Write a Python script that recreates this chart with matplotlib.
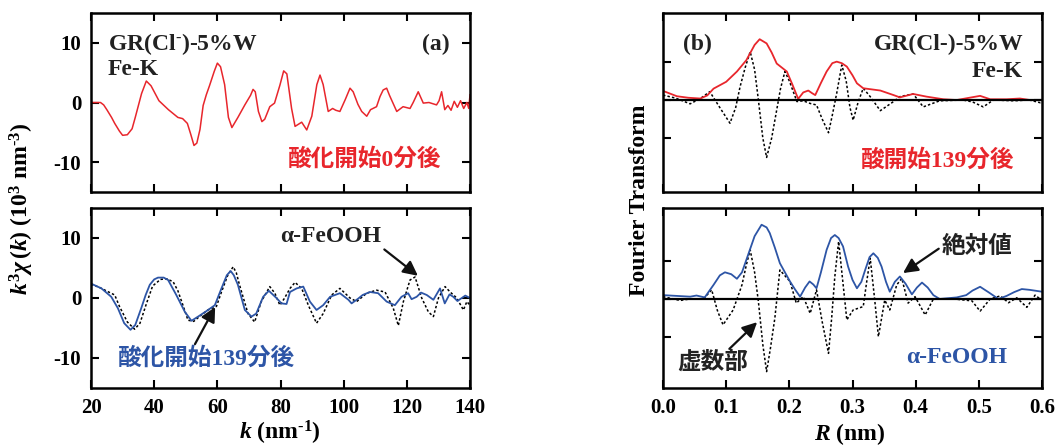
import matplotlib
matplotlib.use("Agg")
import matplotlib.pyplot as plt

# =========================================================
# DATA
# =========================================================
# (a) k^3 chi(k), start of oxidation (0 min)
k_0min = [20, 23, 24, 25, 26.5, 27.5, 29, 30, 31.5, 33, 34, 35, 36, 37.5, 39, 41.5,
          44.5, 47.5, 49, 50.5, 51.5, 52.6, 53.5, 54.5, 55.5, 56.5, 57.5, 59, 60,
          61, 62.3, 63.5, 64.6, 66.5, 68.7, 70.5, 71.3, 72, 73, 74.1, 75, 76.6, 78.1,
          79.8, 81, 82, 83.5, 84.6, 86.7, 88.3, 89.9, 91.5, 92.5, 93.5, 95.1, 96.5,
          97.5, 98.8, 100.5, 102, 103, 104.5, 105.7, 107.3, 108.5, 110.4, 111.5,
          112.5, 113.6, 114.5, 116.8, 118.8, 121, 122, 123.6, 125.2, 127, 129.4,
          130.2, 131, 132, 133, 134, 135, 136, 137, 138, 139, 139.6, 140]
chi_0min = [0, 0, -0.4, -1.2, -2.5, -3.5, -4.8, -5.5, -5.4, -4.4, -2.5, -0.5, 1.5,
            3.6, 2.8, 0.3, -1.2, -2.5, -2.7, -3.5, -5.2, -7.2, -6.8, -4.5, -0.5, 1.3,
            2.8, 5.2, 6.6, 6.0, 3.0, -2.5, -4.2, -2.5, -0.4, 1.2, 2.2, 1.8, -1.5,
            -3.2, -2.8, -0.7, -0.1, 2.9, 5.3, 4.8, -1.0, -4.0, -3.3, -4.6, -2.3, 3.0,
            4.6, 3.0, -1.5, -1.0, -1.3, -1.5, 0.5, 2.4, 1.8, -0.3, -1.5, -2.3, -1.2,
            -0.7, 1.0, 2.1, 2.4, 1.2, -1.5, -0.7, -1.0, 0.0, 1.8, -0.1, 0.0, -0.4,
            0.3, 1.8, -1.2, -0.5, -1.3, 0.2, -0.8, 0.3, -1.0, 0.0, -1.0, 1.3]

# (a) k^3 chi(k), 139 min after start
k_139min = [20, 23.3, 26.4, 28.5, 30.5, 32.5, 34, 35.9, 37.3, 38.6, 40, 41.2, 43,
            44.4, 47, 49.7, 51.8, 53.9, 56.5, 59.2, 61.3, 63, 64.2, 65.2, 66.5, 68.7,
            70.8, 72.3, 74.5, 76.3, 78.7, 80.3, 81.9, 83, 85.1, 87.2, 89.3, 91.4,
            93.5, 95.7, 98.8, 101.5, 102.5, 104.6, 106, 108.3, 110.9, 113.6, 116.2,
            118.3, 120.4, 121.5, 123.1, 124.5, 126.3, 128.4, 130.5, 132, 133.5,
            134.7, 136, 137.4, 138.5, 140]
chi_139min = [2.4, 1.6, 0.2, -1.7, -4.2, -5.3, -4.5, -1.7, 0.5, 2.2, 3.1, 3.4, 3.4,
              3.0, 0.5, -2.3, -3.8, -3.1, -2.2, -1.2, 1.6, 3.8, 4.5, 3.8, 2.2, -2.0,
              -3.1, -2.6, 0.2, 1.2, 0.0, -0.9, -1.0, 1.0, 1.6, 1.9, -0.6, -2.0, -1.2,
              0.2, 0.8, -0.3, -0.9, -0.1, 0.5, 1.0, 0.8, -0.6, -1.2, 0.2, 0.8, -0.2,
              0.2, 0.9, 0.5, -0.3, 1.6, -0.9, 0.6, 0.2, -0.5, 0.0, 0.4, 0.0]

# (a) k^3 chi(k), alpha-FeOOH reference
k_feooh = [20, 22.5, 24.8, 27.5, 29, 31.5, 33.8, 35.5, 37.5, 39.5, 42, 44, 46, 47.5,
           49.1, 50.7, 52.5, 55, 57, 59.7, 61.3, 63.3, 65, 66, 67, 69.7, 71.8, 73.9,
           76.6, 78.2, 79.8, 81.3, 83, 84.6, 86.7, 88.8, 91.4, 93.5, 96.2, 98.8, 102,
           104.1, 107.3, 110.4, 113.1, 115.7, 117.3, 118.9, 121, 122.6, 124.7, 126.8,
           128.4, 130, 132.1, 133.7, 135.8, 137.9, 139, 140]
chi_feooh = [2.3, 1.8, 1.2, 0.5, -1.4, -4.0, -5.2, -4.2, -1.0, 2.0, 3.1, 3.2, 2.7,
             1.2, -1.2, -3.7, -3.9, -2.8, -2.0, -1.4, 1.0, 3.8, 5.2, 4.2, 2.2, -2.6,
             -4.0, -0.6, 1.9, 0.8, -1.2, 0.0, 1.6, 2.6, 1.6, -1.2, -4.2, -2.6, 0.5,
             1.6, 0.0, -0.6, 0.8, 1.3, 1.0, -1.7, -4.6, -0.6, 3.0, 3.5, 0.0, -2.3,
             -3.1, 0.0, 1.9, 1.0, 0.0, -2.0, -0.6, -1.2]

# (b) Fourier transform, 139 min: magnitude and imaginary part
r_139_abs = [0.0, 0.022, 0.04, 0.059, 0.07, 0.08, 0.1, 0.117, 0.132, 0.145, 0.153,
             0.164, 0.172, 0.18, 0.196, 0.205, 0.214, 0.222, 0.23, 0.236, 0.241,
             0.25, 0.259, 0.268, 0.275, 0.283, 0.291, 0.3, 0.307, 0.317, 0.344,
             0.365, 0.375, 0.396, 0.417, 0.444, 0.465, 0.485, 0.502, 0.518, 0.544,
             0.565, 0.581, 0.6]
ft_139_abs = [0.24, 0.1, 0.06, 0.04, 0.12, 0.3, 0.48, 0.75, 1.05, 1.45, 1.6, 1.49,
              1.25, 0.96, 0.75, 0.4, 0.03, 0.2, 0.25, 0.18, 0.13, 0.45, 0.75, 0.97,
              1.01, 0.97, 0.88, 0.65, 0.44, 0.31, 0.25, 0.13, 0.07, 0.16, 0.09, 0.02,
              0.0, 0.06, 0.11, 0.02, 0.02, 0.04, 0.0, 0.0]
r_139_im = [0.0, 0.02, 0.043, 0.06, 0.074, 0.09, 0.106, 0.115, 0.122, 0.13, 0.138,
            0.145, 0.151, 0.158, 0.164, 0.172, 0.18, 0.186, 0.193, 0.2, 0.212, 0.222,
            0.233, 0.243, 0.252, 0.262, 0.268, 0.275, 0.283, 0.29, 0.296, 0.301,
            0.309, 0.317, 0.328, 0.344, 0.365, 0.375, 0.396, 0.412, 0.438, 0.475,
            0.49, 0.507, 0.523, 0.555, 0.58, 0.597, 0.6]
ft_139_im = [0.13, 0.05, -0.1, 0.05, 0.22, -0.2, -0.61, -0.2, 0.35, 0.85, 1.27, 0.8,
             0.0, -1.0, -1.51, -1.0, -0.26, 0.3, 0.75, 0.5, -0.04, -0.02, -0.09, -0.13,
             -0.5, -0.86, -0.4, 0.18, 0.92, 0.5, -0.2, -0.53, -0.05, 0.31, 0.09, -0.28,
             -0.04, 0.09, 0.16, -0.18, -0.02, 0.0, -0.05, -0.18, 0.0, -0.02, 0.0,
             -0.07, -0.05]

# (b) Fourier transform, alpha-FeOOH: magnitude and imaginary part
r_feooh_abs = [0.0, 0.043, 0.053, 0.066, 0.08, 0.09, 0.098, 0.108, 0.117, 0.125,
               0.132, 0.145, 0.156, 0.164, 0.169, 0.177, 0.185, 0.193, 0.201, 0.209,
               0.217, 0.225, 0.232, 0.238, 0.243, 0.25, 0.259, 0.266, 0.272, 0.278,
               0.285, 0.293, 0.3, 0.307, 0.314, 0.32, 0.327, 0.333, 0.34, 0.346,
               0.353, 0.359, 0.367, 0.375, 0.384, 0.394, 0.402, 0.41, 0.419, 0.428,
               0.438, 0.465, 0.48, 0.49, 0.502, 0.515, 0.531, 0.544, 0.556, 0.568,
               0.58, 0.6]
ft_feooh_abs = [0.1, 0.06, 0.09, 0.04, 0.37, 0.62, 0.7, 0.65, 0.53, 0.7, 1.03, 1.65,
                1.95, 1.88, 1.73, 1.35, 0.94, 0.7, 0.46, 0.25, 0.06, 0.3, 0.46, 0.38,
                0.28, 0.7, 1.29, 1.6, 1.68, 1.6, 1.38, 0.85, 0.5, 0.28, 0.45, 0.76,
                1.1, 1.2, 1.08, 0.85, 0.45, 0.19, 0.45, 0.59, 0.4, 0.12, 0.3, 0.43,
                0.3, 0.1, 0.0, 0.04, 0.1, 0.22, 0.32, 0.18, 0.0, 0.08, 0.18, 0.26,
                0.24, 0.19]
r_feooh_im = [0.0, 0.027, 0.043, 0.064, 0.077, 0.086, 0.095, 0.111, 0.125, 0.132,
              0.138, 0.145, 0.151, 0.158, 0.164, 0.17, 0.177, 0.185, 0.201, 0.211,
              0.222, 0.233, 0.243, 0.252, 0.262, 0.267, 0.272, 0.278, 0.285, 0.291,
              0.301, 0.317, 0.322, 0.328, 0.335, 0.341, 0.351, 0.359, 0.37, 0.378,
              0.388, 0.399, 0.415, 0.428, 0.46, 0.489, 0.502, 0.518, 0.534, 0.547,
              0.56, 0.576, 0.589, 0.597, 0.6]
ft_feooh_im = [0.06, -0.04, 0.0, 0.0, 0.24, -0.3, -0.68, -0.29, 0.37, 0.9, 1.29, 0.7,
               -0.07, -1.2, -1.91, -1.3, -0.51, 0.76, 0.46, -0.11, 0.06, -0.38, 0.24,
               -0.6, -1.43, -0.5, 0.59, 1.51, 0.4, -0.55, -0.29, -0.2, 0.4, 1.07, 0.0,
               -0.99, -0.03, -0.29, 0.37, 0.54, -0.11, 0.06, -0.42, 0.0, 0.0, -0.05,
               -0.32, 0.0, 0.08, -0.1, 0.03, -0.22, 0.1, 0.0, 0.0]

k_ticks = [20, 40, 60, 80, 100, 120, 140]
chi_ticks = [-10, 0, 10]
r_ticks = [0.0, 0.1, 0.2, 0.3, 0.4, 0.5, 0.6]
ft_ticks = [-1, 0, 1]

# =========================================================
# STYLE
# =========================================================
RED = "#e8262c"
BLUE = "#2d55a6"
plt.rcParams["font.family"] = ["Liberation Serif", "Noto Sans CJK JP"]
plt.rcParams["font.weight"] = "bold"
plt.rcParams["mathtext.fontset"] = "custom"
plt.rcParams["mathtext.rm"] = "Liberation Serif:bold"
plt.rcParams["mathtext.it"] = "Liberation Serif:italic:bold"
plt.rcParams["mathtext.bf"] = "Liberation Serif:bold"
plt.rcParams["axes.unicode_minus"] = False
plt.rcParams["axes.linewidth"] = 1.8
DOT = (0, (1.6, 1.4))
FS = 17

fig = plt.figure(figsize=(10.61, 4.45), dpi=100)
ax_a1 = fig.add_axes([0.0858, 0.5685, 0.3572, 0.4023])
ax_a2 = fig.add_axes([0.0858, 0.1281, 0.3572, 0.4045])
ax_b1 = fig.add_axes([0.6249, 0.5685, 0.3572, 0.4023])
ax_b2 = fig.add_axes([0.6249, 0.1281, 0.3572, 0.4045])


def style(ax):
    ax.tick_params(direction="in", top=True, right=True, length=6, width=1.5,
                   labelsize=15, pad=7)
    for lab in ax.get_xticklabels() + ax.get_yticklabels():
        lab.set_fontweight("bold")


ARROW = dict(arrowstyle="-|>", color="#111111", lw=1.6, mutation_scale=22,
             shrinkA=0, shrinkB=0)

# =========================================================
# PANEL (a)
# =========================================================
ax_a1.plot(k_0min, chi_0min, color=RED, lw=1.1)
ax_a2.plot(k_feooh, chi_feooh, color="black", lw=1.1, ls=DOT)
ax_a2.plot(k_139min, chi_139min, color=BLUE, lw=1.3)

for ax in (ax_a1, ax_a2):
    ax.set_xlim(20, 140)
    ax.set_ylim(-15, 15)
    ax.set_xticks(k_ticks)
    ax.set_yticks(chi_ticks)
    style(ax)
ax_a1.tick_params(labelbottom=False)

ax_a1.text(25.4, 9.8, r"GR(Cl$^{\text{-}}$)-5%W", fontsize=FS, va="center",
           color="#222222")
ax_a1.text(25.4, 5.5, "Fe-K", fontsize=FS, va="center", color="#222222")
ax_a1.text(129.2, 9.7, "(a)", fontsize=FS, ha="center", va="center", color="#222222")
ax_a1.text(106.7, -9.5, "酸化開始0分後", fontsize=FS, ha="center", va="center",
           color=RED)

ax_a2.annotate("α-FeOOH", xy=(123.5, 3.7), xytext=(96, 10.2), fontsize=FS,
               ha="center", va="center", color="#222222",
               arrowprops=dict(ARROW, relpos=(1.0, 0.0)))
ax_a2.annotate("", xy=(59.3, -1.5), xytext=(52.9, -7.7), arrowprops=ARROW)
ax_a2.text(56.6, -10.0, "酸化開始139分後", fontsize=FS, ha="center", va="center",
           color=BLUE)

fig.text(0.021, 0.53, r"$k^3\chi\,(k)$ (10$^3$ nm$^{\text{-}3}$)", rotation=90,
         fontsize=FS, ha="center", va="center")
fig.text(0.264, 0.012, r"$k$ (nm$^{\text{-}1}$)", fontsize=FS, ha="center",
         va="baseline")

# =========================================================
# PANEL (b)
# =========================================================
ax_b1.plot(r_139_im, ft_139_im, color="black", lw=1.1, ls=DOT)
ax_b1.plot(r_139_abs, ft_139_abs, color=RED, lw=1.3)
ax_b2.plot(r_feooh_im, ft_feooh_im, color="black", lw=1.1, ls=DOT)
ax_b2.plot(r_feooh_abs, ft_feooh_abs, color=BLUE, lw=1.3)

ax_b1.set_ylim(-2.42, 2.29)
ax_b2.set_ylim(-2.34, 2.39)
for ax in (ax_b1, ax_b2):
    ax.axhline(0, color="black", lw=1.6)
    ax.set_xlim(0, 0.6)
    ax.set_xticks(r_ticks)
    ax.set_xticklabels([f"{v:.1f}" for v in r_ticks])
    ax.set_yticks(ft_ticks)
    style(ax)
    ax.tick_params(labelleft=False)
ax_b1.tick_params(labelbottom=False)

ax_b1.text(0.0317, 1.45, "(b)", fontsize=FS, va="center", color="#222222")
ax_b1.text(0.570, 1.45, "GR(Cl-)-5%W", fontsize=FS, ha="right", va="center",
           color="#222222")
ax_b1.text(0.570, 0.74, "Fe-K", fontsize=FS, ha="right", va="center", color="#222222")
ax_b1.text(0.557, -1.58, "酸開始139分後", fontsize=FS, ha="right", va="center",
           color=RED)

ax_b2.annotate("絶対値", xy=(0.380, 0.68), xytext=(0.497, 1.37), fontsize=FS,
               ha="center", va="center", color="#222222",
               arrowprops=dict(ARROW, relpos=(0.0, 0.5)))
ax_b2.annotate("虚数部", xy=(0.149, -0.61), xytext=(0.078, -1.68), fontsize=FS,
               ha="center", va="center", color="#222222",
               arrowprops=dict(ARROW, relpos=(0.7, 1.0)))
ax_b2.text(0.465, -1.55, "α-FeOOH", fontsize=FS, ha="center", va="center",
           color=BLUE)

fig.text(0.603, 0.55, "Fourier Transform", rotation=90, fontsize=FS,
         ha="center", va="center")
fig.text(0.801, 0.012, r"$R$ (nm)", fontsize=FS, ha="center", va="baseline")

fig.savefig("out.png", dpi=100)
